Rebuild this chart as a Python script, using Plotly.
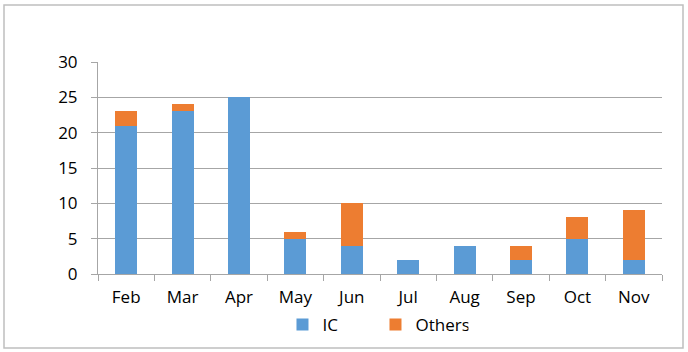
import plotly.graph_objects as go

months = ["Feb", "Mar", "Apr", "May", "Jun", "Jul", "Aug", "Sep", "Oct", "Nov"]
ic = [21, 23, 25, 5, 4, 2, 4, 2, 5, 2]
others = [2, 1, 0, 1, 6, 0, 0, 2, 3, 7]
y_ticks = [0, 5, 10, 15, 20, 25, 30]

W, H = 688, 352
L, R, T, B = 98, 26, 62, 78
pw, ph = W - L - R, H - T - B

fig = go.Figure()
fig.add_trace(go.Bar(x=months, y=ic, name="IC", marker=dict(color="#5b9bd5", line=dict(width=0))))
fig.add_trace(go.Bar(x=months, y=others, name="Others", marker=dict(color="#ed7d31", line=dict(width=0))))

font = "Open Sans, Liberation Sans, sans-serif"
fig.update_layout(
    width=W, height=H, barmode="stack", bargap=0.61,
    margin=dict(l=L, r=R, t=T, b=B, autoexpand=False),
    paper_bgcolor="white", plot_bgcolor="white",
    font=dict(family=font, size=17, color="#000000"),
    legend=dict(orientation="h", x=0.492, xanchor="center", yref="container", y=1 - 325 / H,
                yanchor="middle", bgcolor="rgba(0,0,0,0)",
                font=dict(size=17), itemwidth=30, traceorder="normal",
                entrywidth=48, entrywidthmode="pixels"),
    xaxis=dict(showgrid=False, showline=True, linecolor="#a6a6a6", linewidth=1,
               ticks="outside", tickcolor="#a6a6a6", ticklen=6, tickson="boundaries",
               ticklabelstandoff=8, tickfont=dict(size=17)),
    yaxis=dict(range=[0, 30], tickvals=y_ticks, showgrid=True, gridcolor="#a6a6a6", gridwidth=1,
               showline=True, linecolor="#a6a6a6", linewidth=1, ticks="outside",
               tickcolor="#a6a6a6", ticklen=6, zeroline=False, ticklabelstandoff=10,
               tickfont=dict(size=17)),
    shapes=[dict(type="rect", xref="paper", yref="paper",
                 x0=(4 - L) / pw, x1=(683 - L) / pw,
                 y0=(H - B - 348) / ph, y1=(H - B - 5) / ph,
                 line=dict(color="#bfbfbf", width=1.5), layer="below")],
)
fig.write_html("out.html")
